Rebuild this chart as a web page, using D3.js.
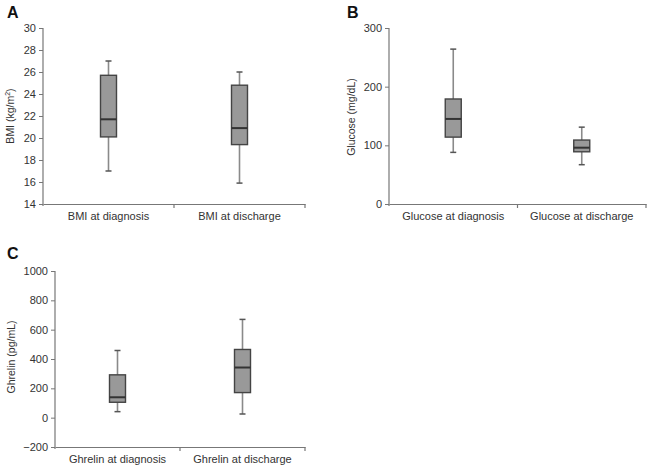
<!DOCTYPE html>
<html><head><meta charset="utf-8">
<script src="https://cdn.jsdelivr.net/npm/d3@7"></script>
<style>body{margin:0;background:#fff}svg{display:block}text{font-family:"Liberation Sans",Arial,sans-serif}</style>
</head><body>
<script>
// Data
const bmiCategories = ["BMI at diagnosis", "BMI at discharge"];
const bmiStats = [ // [min, q1, median, q3, max]
  [17.0, 20.1, 21.7, 25.7, 27.0],
  [15.9, 19.4, 20.9, 24.8, 26.0]
];
const bmiTicks = [14, 16, 18, 20, 22, 24, 26, 28, 30];

const glucoseCategories = ["Glucose at diagnosis", "Glucose at discharge"];
const glucoseStats = [
  [88, 114, 145, 179, 264],
  [67, 89, 96, 109, 131]
];
const glucoseTicks = [0, 100, 200, 300];

const ghrelinCategories = ["Ghrelin at diagnosis", "Ghrelin at discharge"];
const ghrelinStats = [
  [41, 105, 139, 292, 458],
  [25, 171, 342, 465, 670]
];
const ghrelinTicks = [-200, 0, 200, 400, 600, 800, 1000];

const W = 649, H = 467;
const svg = d3.select("body").append("svg").attr("width", W).attr("height", H);

function panel(opt) {
  const g = svg.append("g");
  const y = d3.scaleLinear().domain([opt.ticks[0], opt.ticks[opt.ticks.length - 1]]).range([opt.y1, opt.y0]);
  const x = d3.scaleBand().domain(opt.cats).range([opt.x0, opt.x1]).padding(0);
  const axisColor = "#777";

  // y axis
  const ya = g.append("g").attr("transform", `translate(${opt.x0},0)`)
    .call(d3.axisLeft(y).tickValues(opt.ticks).tickFormat(d3.format("d")).tickSize(4).tickPadding(3).tickSizeOuter(0));
  ya.select(".domain").attr("stroke", axisColor).attr("stroke-width", 1.2).attr("d", `M0,${opt.y0}V${opt.y1 + 2}`);
  ya.selectAll(".tick line").attr("stroke", axisColor);
  ya.selectAll(".tick text").attr("fill", "#333").style("font-size", "11px");

  // x axis
  const xa = g.append("g").attr("transform", `translate(0,${opt.y1})`)
    .call(d3.axisBottom(x).tickSize(0).tickPadding(8));
  xa.select(".domain").attr("stroke", axisColor).attr("stroke-width", 1.2);
  xa.selectAll(".tick text").attr("fill", "#333").style("font-size", "11px");
  // band boundary ticks
  const edges = opt.cats.slice(1).map(c => x(c)).concat([opt.x1]);
  xa.selectAll(".edge").data(edges).enter().append("line")
    .attr("x1", d => d).attr("x2", d => d).attr("y1", 0).attr("y2", 4)
    .attr("stroke", axisColor).attr("stroke-width", 1.2);

  // boxes
  const bw = 16, cw = 6;
  opt.stats.forEach((s, i) => {
    const cx = x(opt.cats[i]) + x.bandwidth() / 2;
    const [mn, q1, md, q3, mx] = s;
    g.append("line").attr("x1", cx).attr("x2", cx).attr("y1", y(mx)).attr("y2", y(q3))
      .attr("stroke", "#8a8a8a").attr("stroke-width", 1.6);
    g.append("line").attr("x1", cx).attr("x2", cx).attr("y1", y(q1)).attr("y2", y(mn))
      .attr("stroke", "#8a8a8a").attr("stroke-width", 1.6);
    [mn, mx].forEach(v => g.append("line").attr("x1", cx - cw / 2).attr("x2", cx + cw / 2)
      .attr("y1", y(v)).attr("y2", y(v)).attr("stroke", "#555").attr("stroke-width", 1.5));
    g.append("rect").attr("x", cx - bw / 2).attr("width", bw)
      .attr("y", y(q3)).attr("height", y(q1) - y(q3))
      .attr("fill", "#999").attr("stroke", "#444").attr("stroke-width", 1.4);
    g.append("line").attr("x1", cx - bw / 2).attr("x2", cx + bw / 2)
      .attr("y1", y(md)).attr("y2", y(md)).attr("stroke", "#333").attr("stroke-width", 2);
  });

  // y title
  const t = g.append("text").attr("transform", `translate(${opt.tx},${opt.ty}) rotate(-90)`)
    .attr("text-anchor", "middle").attr("fill", "#333").style("font-size", "10.5px");
  if (opt.sup) {
    t.append("tspan").text(opt.title);
    t.append("tspan").attr("dy", -4).style("font-size", "7px").text(opt.sup);
    t.append("tspan").attr("dy", 4).text(")");
  } else t.text(opt.title);

  // panel letter
  g.append("text").attr("x", opt.lx).attr("y", opt.ly).attr("fill", "#111")
    .style("font-size", "16px").style("font-weight", "bold").text(opt.letter);
}

panel({ cats: bmiCategories, stats: bmiStats, ticks: bmiTicks, x0: 43, x1: 305, y0: 28, y1: 204,
  title: "BMI (kg/m", sup: "2", tx: 14, ty: 116, letter: "A", lx: 7, ly: 18 });
panel({ cats: glucoseCategories, stats: glucoseStats, ticks: glucoseTicks, x0: 389, x1: 646, y0: 28, y1: 204,
  title: "Glucose (mg/dL)", tx: 355, ty: 117, letter: "B", lx: 347, ly: 18 });
panel({ cats: ghrelinCategories, stats: ghrelinStats, ticks: ghrelinTicks, x0: 55, x1: 305, y0: 271, y1: 447,
  title: "Ghrelin (pg/mL)", tx: 15, ty: 357, letter: "C", lx: 7, ly: 259 });
</script>
</body></html>
